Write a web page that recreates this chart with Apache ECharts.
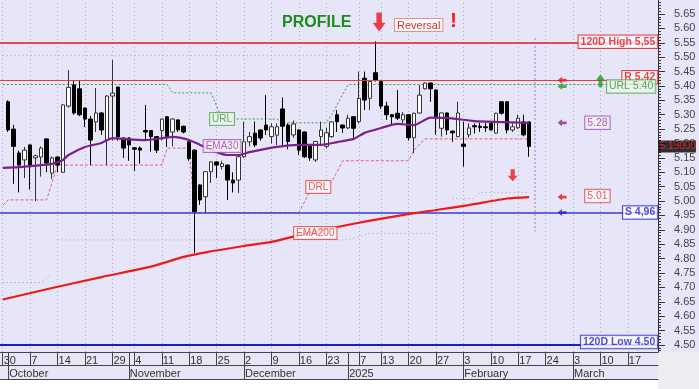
<!DOCTYPE html>
<html><head><meta charset="utf-8">
<script src="https://cdn.jsdelivr.net/npm/echarts@6/dist/echarts.min.js"></script>
<style>html,body{margin:0;padding:0;background:#fff}#c{width:699px;height:389px}</style>
</head><body><div id="c"></div>
<script>
// ---------- categories (trading days) ----------
const firstDay = '2024-09-30';
const lastDay = '2025-03-24';
const closedDays = ['2024-10-28','2024-12-24','2024-12-25','2024-12-26','2025-01-01','2025-01-06'];

// ---------- tick labels ----------
const weekTickDays = ['2024-09-30','2024-10-07','2024-10-14','2024-10-21','2024-10-29','2024-11-04','2024-11-11','2024-11-18','2024-11-25','2024-12-02','2024-12-09','2024-12-16','2024-12-23','2025-01-07','2025-01-13','2025-01-20','2025-01-27','2025-02-03','2025-02-10','2025-02-17','2025-02-24','2025-03-03','2025-03-10','2025-03-17'];
const weekTickLabels = ['30','7','14','21','29','4','11','18','25','2','9','16','23','7','13','20','27','3','10','17','24','3','10','17'];
const monthTickDays = ['2024-10-01','2024-11-01','2024-12-02','2025-01-02','2025-02-03','2025-03-03'];
const monthTickLabels = ['October','November','December','2025','February','March'];
const yTickLabels = ['4.50','4.55','4.60','4.65','4.70','4.75','4.80','4.85','4.90','4.95','5.00','5.05','5.10','5.15','5.20','5.25','5.30','5.35','5.40','5.45','5.50','5.55','5.60','5.65'];

// ---------- candles [open, close, low, high], from 2024-10-01 ----------
const candleStart = '2024-10-01';
const candles = [
[5.345,5.247,5.24,5.35],[5.25,5.19,5.06,5.265],[5.167,5.125,5.03,5.175],[5.143,5.177,5.08,5.188],[5.195,5.125,5.04,5.197],
[5.15,5.157,5.00,5.162],[5.153,5.184,5.085,5.19],[5.216,5.132,5.10,5.218],[5.097,5.15,5.077,5.155],[5.153,5.125,5.10,5.155],
[5.10,5.334,5.098,5.336],[5.33,5.395,5.325,5.455],[5.403,5.306,5.30,5.42],[5.39,5.30,5.295,5.42],[5.323,5.285,5.257,5.325],
[5.285,5.212,5.125,5.296],[5.275,5.306,5.24,5.393],[5.306,5.247,5.23,5.31],[5.212,5.365,5.125,5.368],[5.365,5.375,5.21,5.49],
[5.396,5.223,5.21,5.398],[5.219,5.184,5.15,5.222],[5.219,5.195,5.14,5.222],[5.185,5.18,5.105,5.188],[5.184,5.177,5.13,5.19],
[5.245,5.24,5.212,5.334],[5.245,5.224,5.172,5.247],[5.224,5.177,5.167,5.226],[5.245,5.285,5.21,5.287],[5.293,5.224,5.188,5.295],
[5.24,5.285,5.19,5.287],[5.282,5.247,5.24,5.284],[5.26,5.24,5.235,5.262],[5.206,5.148,5.14,5.208],[5.177,4.963,4.82,5.18],
[5.056,5.004,4.987,5.058],[5.015,5.102,4.958,5.104],[5.102,5.136,5.063,5.138],[5.136,5.125,5.08,5.138],[5.12,5.13,5.11,5.14],
[5.125,5.073,5.004,5.127],[5.073,5.063,5.03,5.10],[5.073,5.154,5.028,5.156],[5.154,5.206,5.15,5.276],[5.206,5.224,5.19,5.24],
[5.236,5.195,5.188,5.276],[5.247,5.219,5.21,5.249],[5.264,5.247,5.23,5.368],[5.224,5.258,5.20,5.27],[5.229,5.258,5.195,5.27],
[5.32,5.26,5.195,5.36],[5.264,5.207,5.18,5.27],[5.23,5.268,5.22,5.28],[5.247,5.177,5.16,5.249],[5.24,5.154,5.15,5.242],
[5.195,5.15,5.14,5.197],[5.143,5.207,5.136,5.209],[5.224,5.247,5.195,5.276],[5.19,5.237,5.183,5.254],[5.224,5.275,5.22,5.277],
[5.30,5.276,5.24,5.316],[5.264,5.254,5.237,5.266],[5.254,5.288,5.25,5.30],[5.293,5.253,5.22,5.295],[5.276,5.357,5.27,5.45],
[5.427,5.351,5.316,5.45],[5.357,5.415,5.316,5.417],[5.446,5.42,5.415,5.555],[5.415,5.33,5.32,5.417],[5.33,5.30,5.282,5.345],
[5.30,5.293,5.265,5.302],[5.305,5.288,5.282,5.386],[5.282,5.30,5.27,5.31],[5.30,5.22,5.21,5.302],[5.22,5.305,5.167,5.307],
[5.306,5.368,5.304,5.403],[5.39,5.41,5.388,5.412],[5.41,5.39,5.345,5.412],[5.386,5.293,5.23,5.388],[5.253,5.306,5.224,5.308],
[5.306,5.247,5.23,5.308],[5.243,5.237,5.206,5.245],[5.224,5.306,5.222,5.345],[5.198,5.19,5.12,5.276],[5.23,5.254,5.22,5.27],
[5.262,5.258,5.235,5.27],[5.26,5.256,5.24,5.272],[5.258,5.255,5.24,5.272],[5.27,5.247,5.245,5.272],[5.236,5.305,5.234,5.307],
[5.345,5.305,5.30,5.347],[5.345,5.247,5.235,5.347],[5.247,5.258,5.24,5.27],[5.255,5.288,5.25,5.30],[5.275,5.23,5.225,5.30],
[5.275,5.19,5.154,5.277]
];

// ---------- indicator lines, [dayIndex, value] ----------
const ema30 = [[0,5.115],[3,5.118],[7,5.125],[9,5.129],[11,5.143],[12,5.16],[15,5.188],[18,5.202],[20,5.219],[22,5.216],[26,5.212],[31,5.223],[34,5.212],[36,5.195],[39,5.17],[41,5.16],[43,5.16],[45,5.17],[50,5.188],[54,5.195],[58,5.195],[61,5.205],[64,5.216],[66,5.237],[69,5.254],[72,5.268],[75,5.264],[78,5.29],[81,5.289],[86,5.278],[90,5.275],[96,5.272]];
const ema200 = [[0,4.658],[9,4.698],[18,4.736],[27,4.772],[33,4.806],[37,4.822],[44,4.844],[49,4.858],[55,4.886],[61,4.91],[67,4.932],[75,4.958],[79,4.969],[85,4.986],[92,5.009],[96,5.014]];
const urlLine = [[0,5.405],[30,5.405],[31,5.376],[38,5.376],[40,5.285],[50,5.285],[51,5.272],[59,5.272],[60,5.30],[62,5.37],[63,5.405],[119,5.405]];
const drlLine = [[0,4.985],[1,5.004],[8,5.004],[10,5.125],[29,5.125],[30,5.184],[34,5.184],[35,4.96],[54,4.96],[56,5.032],[60,5.066],[62,5.14],[74,5.14],[75,5.177],[77,5.216],[96,5.216]];
const upperDots = [[0,5.505],[63,5.505]];
const lowDotsA = [[0,4.717],[7,4.717],[9,4.745]];
const lowDotsB = [[10,4.865],[63,4.865],[67,4.888],[79,4.888]];
const lowDotsC = [[82,5.009],[86,5.009],[87,5.03],[96,5.03]];

// ---------- levels ----------
const levelValues = [5.55, 5.42, 4.96, 4.50];
const levelTexts = ['120D High 5,55','R 5,42','S 4,96','120D Low 4.50'];
const urlValue = 5.405, urlText = 'URL 5.40';
const lastPrice = 5.19, lastPriceText = '5.19000';
const ema30Text = '5.28', ema200Text = '5.01';

// ---------- build categories ----------
function buildDays(){
  const out=[]; const closed=new Set(closedDays);
  let d=new Date(firstDay+'T00:00:00Z'); const end=new Date(lastDay+'T00:00:00Z');
  while(d<=end){ const wd=d.getUTCDay(); const s=d.toISOString().slice(0,10);
    if(wd!==0&&wd!==6&&!closed.has(s)) out.push(s);
    d=new Date(d.getTime()+86400000);} return out;
}
const days = buildDays();
const lastIdx = days.length-1;
const weekSet = new Set(weekTickDays), monthSet = new Set(monthTickDays);
const dayLab = {}; weekTickDays.forEach((d,i)=>dayLab[d]=weekTickLabels[i]);
const monLab = {}; monthTickDays.forEach((d,i)=>monLab[d]=monthTickLabels[i]);
const cStart = days.indexOf(candleStart);
const candleData = days.map((d,i)=>{const k=i-cStart; return (k>=0&&k<candles.length)?candles[k]:'-';});
const yTickValues = yTickLabels.map(Number);
const minorTicks=[]; for(let v=448; v<=569; v++){ if(v%5!==0) minorTicks.push(v/100); }
const lastCandleIdx = cStart+candles.length-1;

const FONT='"Liberation Sans", Arial, sans-serif';
const Y_MIN=4.4756, Y_MAX=5.6986;
const LARROW='path://M0,5L6,0V3H12V7H6V10Z';
const DARROW='path://M3.5,0H8.5V7H12L6,13L0,7H3.5Z';
const UARROW='path://M6,0L12,6H8.5V13H3.5V6H0Z';

function boxLabel(text,color,border,bg,pos,align,bold,fs){
  const f=fs||10;
  return {show:true,formatter:text,position:pos,align:align||'center',verticalAlign:'middle',
    color:color,borderColor:border,borderWidth:1,backgroundColor:bg||'#fff',padding:[1,2,0,2],
    fontSize:f,lineHeight:f+1,fontFamily:FONT,fontWeight:bold?'bold':'normal'};
}
const RED='#e8141c', BLUE='#2424c8', GREEN='#2a9a2a', PURPLE='#8a2a96';

const annotations = [
  {value:[lastIdx,levelValues[0]],label:boxLabel(levelTexts[0],RED,RED,'#fff',[2,-1],'right',true,10.5)},
  {value:[lastIdx,levelValues[1]],label:boxLabel(levelTexts[1],RED,RED,'#fff',[2,-3],'right',true,10.5)},
  {value:[lastIdx,urlValue],label:boxLabel(urlText,GREEN,'#4aaa4a','#eef6ee',[0,2],'right',false,10.5)},
  {value:[lastIdx,levelValues[2]],label:boxLabel(levelTexts[2],BLUE,BLUE,'#fff',[2,0],'right',true,10.5)},
  {value:[lastIdx,levelValues[3]],label:boxLabel(levelTexts[3],BLUE,BLUE,'#fff',[2,-3],'right',true,10.5)},
  {value:[108,ema30[ema30.length-1][1]],label:boxLabel(ema30Text,'#9a3aa8','#a050b0','#f6f0f8',[2.5,0],'center',false,10.5)},
  {value:[108,ema200[ema200.length-1][1]],label:boxLabel(ema200Text,'#e03030','#e04040','#fff',[2.5,-1],'center',false,10.5)},
  {value:[40,5.285],label:boxLabel('URL',GREEN,'#4aaa4a','#f2f8f2',[0,0],'center',false)},
  {value:[40,5.191],label:boxLabel('EMA30','#a03aa0','#a050b0','#f8f0f8',[0,0],'center',false)},
  {value:[57,5.049],label:boxLabel('DRL','#e03030','#e04040','#fff',[3,0],'center',false)},
  {value:[57,4.889],label:boxLabel('EMA200','#e03030','#e04040','#fff',[0,0],'center',false)},
  {value:[lastIdx,lastPrice],label:{show:true,formatter:lastPriceText,position:[3.5,0],align:'left',verticalAlign:'middle',
    color:'#ff2a2a',backgroundColor:'#000',padding:[1,0,0,1],fontSize:10,lineHeight:11,fontFamily:FONT}}
];
const arrows = [
  {value:[102,levelValues[1]],symbol:LARROW,symbolSize:[9,7],itemStyle:{color:RED}},
  {value:[102,urlValue],symbol:LARROW,symbolSize:[9,7],symbolOffset:[0,2],itemStyle:{color:GREEN}},
  {value:[102,ema30[ema30.length-1][1]],symbol:LARROW,symbolSize:[9,7],itemStyle:{color:PURPLE}},
  {value:[102,ema200[ema200.length-1][1]],symbol:LARROW,symbolSize:[9,7],itemStyle:{color:RED}},
  {value:[102,levelValues[2]],symbol:LARROW,symbolSize:[9,7],itemStyle:{color:BLUE}},
  {value:[109,5.418],symbol:UARROW,symbolSize:[9,13],itemStyle:{color:'#1e9a1e'}},
  {value:[93,5.09],symbol:DARROW,symbolSize:[10,12],itemStyle:{color:'#f01818'}},
  {value:[68,5.622],symbol:DARROW,symbolSize:[13,19],symbolOffset:[3.5,0],itemStyle:{color:'#e8141c'}}
];

const chart = echarts.init(document.getElementById('c'),null,{renderer:'canvas'});
chart.setOption({
  animation:false,
  backgroundColor:'#e6e6f8',
  grid:{left:-6,right:41,top:0,bottom:37,containLabel:false},
  graphic:[
    {type:'rect',left:0,top:379,z:-1,shape:{width:699,height:10},style:{fill:'#ffffff'}},
    {type:'rect',left:658,top:352,z:-1,shape:{width:41,height:37},style:{fill:'#eeeef2'}},
    {type:'text',left:282,top:15,z:10,style:{text:'PROFILE',font:'bold 16px '+FONT,fill:'#1b8c1b'}},
    {type:'text',left:394,top:18,z:10,style:{text:'Reversal',font:'11px '+FONT,fill:'#e02828',backgroundColor:'#fff',borderColor:'#f08a8a',borderWidth:1,padding:[1,2,0,2]}},
    {type:'text',left:450,top:11,z:10,style:{text:'!',font:'bold 21px '+FONT,fill:'#ff1a1a'}}
  ],
  xAxis:[
    {type:'category',data:days,boundaryGap:true,position:'bottom',offset:0,
     axisLine:{show:true,onZero:false,lineStyle:{color:'#444',width:1}},
     axisTick:{show:true,alignWithLabel:true,length:13,interval:(i,v)=>weekSet.has(v)||monthSet.has(v),lineStyle:{color:'#444'}},
     axisLabel:{show:true,interval:(i,v)=>weekSet.has(v),formatter:v=>dayLab[v]||'',align:'left',margin:3,fontSize:11,color:'#333',fontFamily:FONT,padding:[0,0,0,1]},
     splitLine:{show:false}},
    {type:'category',data:days,boundaryGap:true,position:'bottom',offset:13,
     axisLine:{show:true,onZero:false,lineStyle:{color:'#444',width:1}},
     axisTick:{show:true,alignWithLabel:true,length:14,interval:(i,v)=>monthSet.has(v),lineStyle:{color:'#444'}},
     axisLabel:{show:true,interval:(i,v)=>monthSet.has(v),formatter:v=>monLab[v]||'',align:'left',margin:3,fontSize:11,color:'#333',fontFamily:FONT,padding:[0,0,0,1]},
     splitLine:{show:false}},
    {type:'category',data:days,boundaryGap:true,position:'bottom',offset:27,
     axisLine:{show:true,onZero:false,lineStyle:{color:'#444',width:1}},
     axisTick:{show:false},axisLabel:{show:false},splitLine:{show:false}}
  ],
  yAxis:[
    {type:'value',position:'right',min:Y_MIN,max:Y_MAX,
     axisLine:{show:true,lineStyle:{color:'#333'}},
     axisTick:{show:true,length:7,customValues:yTickValues,lineStyle:{color:'#333'}},
     axisLabel:{show:true,customValues:yTickValues,formatter:v=>v.toFixed(2),margin:16,fontSize:11,color:'#444',fontFamily:FONT},
     splitLine:{show:false}},
    {type:'value',position:'right',min:Y_MIN,max:Y_MAX,
     axisLine:{show:false},
     axisTick:{show:true,length:3,customValues:minorTicks,lineStyle:{color:'#333'}},
     axisLabel:{show:false},splitLine:{show:false}}
  ],
  series:[
    {name:'upperDots',type:'line',data:upperDots,symbol:'none',z:2,silent:true,
     lineStyle:{color:'#d88a9a',width:1,type:[1,3]},
     markLine:{silent:true,symbol:'none',z:1,label:{show:false},
       lineStyle:{color:'#aeaec4',width:1,type:[1,3]},
       data:weekTickDays.map(d=>({xAxis:d}))}},
    {name:'lowDotsA',type:'line',data:lowDotsA,symbol:'none',z:2,silent:true,lineStyle:{color:'#9a9aae',width:1,type:[1,3]}},
    {name:'lowDotsB',type:'line',data:lowDotsB,symbol:'none',z:2,silent:true,lineStyle:{color:'#9a9aae',width:1,type:[1,3]}},
    {name:'lowDotsC',type:'line',data:lowDotsC,symbol:'none',z:2,silent:true,lineStyle:{color:'#b89aae',width:1,type:[1,3]}},
    {name:'URL',type:'line',data:urlLine,symbol:'none',z:2,silent:true,lineStyle:{color:'#3c9c3c',width:1,type:[2,2]}},
    {name:'DRL',type:'line',data:drlLine,symbol:'none',z:2,silent:true,lineStyle:{color:'#e2607a',width:1,type:[3,2]}},
    {name:'price',type:'candlestick',data:candleData,barWidth:4,z:3,
     itemStyle:{color:'#ffffff',color0:'#000000',borderColor:'#333333',borderColor0:'#000000',borderWidth:1},
     markLine:{silent:true,symbol:'none',z:4,label:{show:false},
       data:[
         {yAxis:levelValues[0],lineStyle:{color:RED,width:1.6,type:'solid'}},
         {yAxis:levelValues[1],lineStyle:{color:'#e83a3a',width:1.2,type:'solid'}},
         {yAxis:levelValues[2],lineStyle:{color:'#3a3ad0',width:1.5,type:'solid'}},
         {yAxis:levelValues[3],lineStyle:{color:'#1e1ec0',width:2,type:'solid'}},
         [{coord:[days[lastCandleIdx+1],5.565],lineStyle:{color:'#a050b0',width:1.5,type:[1,3]}},{coord:[days[lastCandleIdx+1],4.895]}]
       ]}},
    {name:'EMA30',type:'line',data:ema30,symbol:'none',z:5,silent:true,smooth:0.2,lineStyle:{color:'#7e1f8c',width:2.2}},
    {name:'EMA200',type:'line',data:ema200,symbol:'none',z:5,silent:true,smooth:0.2,lineStyle:{color:'#ee1a1a',width:2.2}},
    {name:'arrows',type:'scatter',data:arrows,z:8,silent:true},
    {name:'labels',type:'scatter',data:annotations,symbolSize:0,z:9,silent:true}
  ]
});
</script></body></html>
